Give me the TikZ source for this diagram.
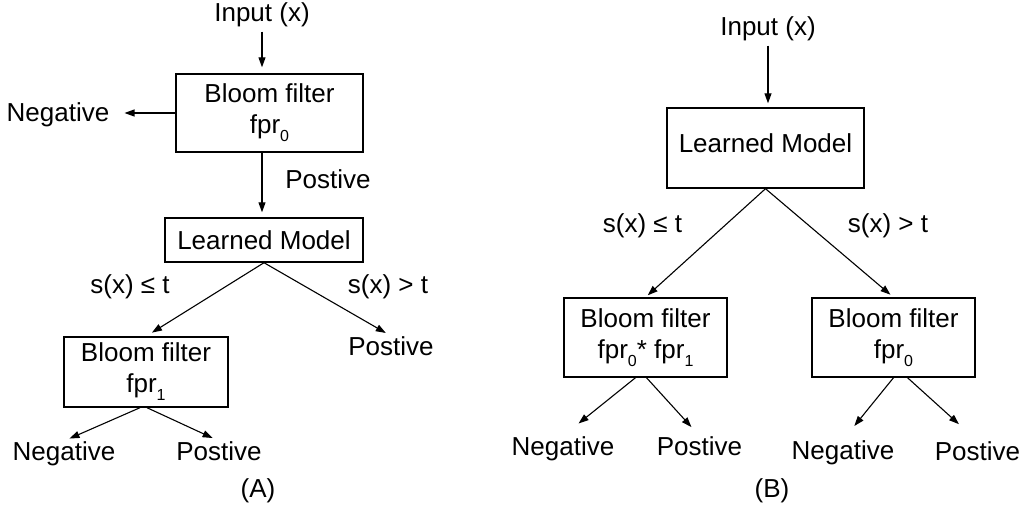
\documentclass[tikz,border=0pt]{standalone}
\usepackage{fontspec}
\setmainfont{Liberation Sans}
\usetikzlibrary{arrows.meta,calc}
\newcommand\sbs[1]{\raisebox{-8pt}{\fontsize{16}{16}\selectfont #1}}
\begin{document}
\begin{tikzpicture}[x=1pt,y=-1pt,
  every node/.style={font=\fontsize{26}{31}\selectfont, inner sep=0pt},
  box/.style={draw, line width=1.4pt, align=center},
  lbl/.style={anchor=base},
  arr/.style={line width=1.1pt, -{Triangle[length=10pt,width=7pt]}}]
\useasboundingbox (0,0) rectangle (1031,512);
% ---------- (A) ----------
\node[box, minimum width=187pt, minimum height=78pt] (bf1) at (269.5,113) {Bloom filter\\fpr\sbs{0}};
\node[box, minimum width=198pt, minimum height=44pt] (lmA) at (264,240) {Learned Model};
\node[box, minimum width=164pt, minimum height=70pt] (bf2) at (146,372) {Bloom filter\\fpr\sbs{1}};
\node[lbl] (inA) at (262,21) {Input (x)};
\node[lbl] (negA) at (58,121) {Negative};
\node[lbl] (posA) at (328,188) {Postive};
\node[lbl] (sA1) at (130,293) {s(x) ≤ t};
\node[lbl] (sA2) at (388,293) {s(x) > t};
\node[lbl] (posA1) at (391,355) {Postive};
\node[lbl] (negA2) at (64,460) {Negative};
\node[lbl] (posA2) at (219,460) {Postive};
\node[lbl] (capA) at (258,497) {(A)};
\draw[arr, shorten <=5pt, shorten >=6pt] (inA.south) -- (bf1.north -| inA.south);
\draw[arr, shorten >=15pt] (bf1.west) -- (bf1.west -| negA.east);
\draw[arr, shorten >=5pt] (bf1.south -| inA.south) -- (lmA.north -| inA.south);
\draw[arr, shorten >=7pt] (lmA.south) -- (bf2.north);
\draw[arr, shorten >=6pt] (lmA.south) -- (posA1.north);
\draw[arr, shorten >=6pt] ($(bf2.south)+(-6,0)$) -- (negA2.north);
\draw[arr, shorten >=7pt] ($(bf2.south)+(1,0)$) -- (posA2.north);
% ---------- (B) ----------
\node[box, minimum width=197pt, minimum height=80pt, text depth=10pt] (lmB) at (765.5,148) {Learned Model};
\node[box, minimum width=163pt, minimum height=79pt] (bfB1) at (645.5,337.5) {Bloom filter\\fpr\sbs{0}* fpr\sbs{1}};
\node[box, minimum width=163pt, minimum height=79pt] (bfB2) at (893.5,337.5) {Bloom filter\\fpr\sbs{0}};
\node[lbl] (inB) at (768,35) {Input (x)};
\node[lbl] (sB1) at (642.5,232) {s(x) ≤ t};
\node[lbl] (sB2) at (888,232) {s(x) > t};
\node[lbl] (negB1) at (563,455) {Negative};
\node[lbl] (posB1) at (699.5,455) {Postive};
\node[lbl] (negB2) at (843,459) {Negative};
\node[lbl] (posB2) at (977.5,460) {Postive};
\node[lbl] (capB) at (772,497) {(B)};
\draw[arr, shorten <=5pt, shorten >=4pt] (inB.south) -- (inB.south |- lmB.north);
\draw[arr, shorten >=3pt] (lmB.south) -- (bfB1.north);
\draw[arr, shorten >=4pt] (lmB.south) -- (bfB2.north);
\draw[arr, shorten >=20pt] ($(bfB1.south)+(-10,0)$) -- (negB1.north);
\draw[arr, shorten >=12pt] ($(bfB1.south)+(1,0)$) -- (posB1.north);
\draw[arr, shorten >=18pt] (bfB2.south) -- (negB2.north);
\draw[arr, shorten >=25pt] ($(bfB2.south)+(14,0)$) -- (posB2.north);
\end{tikzpicture}
\end{document}
